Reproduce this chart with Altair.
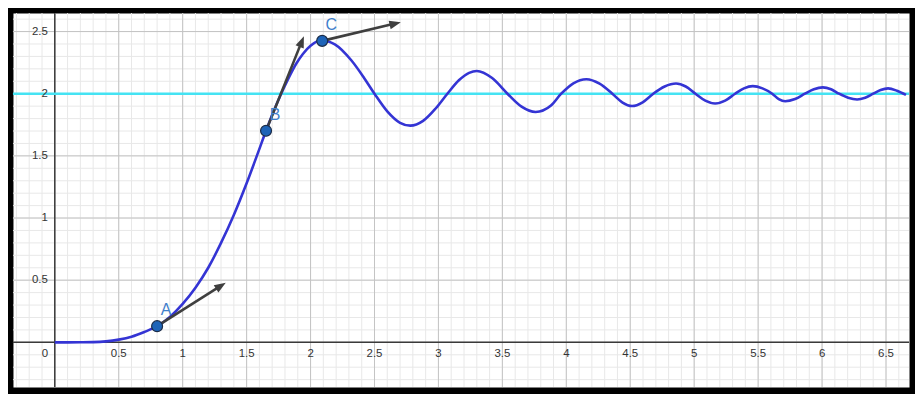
import math
import numpy as np
import pandas as pd
import altair as alt

# ---------------- data ----------------
curve_x = [0, 0.1, 0.2, 0.3, 0.4, 0.5, 0.6, 0.7, 0.8, 0.9, 1.0, 1.1, 1.2, 1.3, 1.4,
           1.5, 1.58, 1.652, 1.71, 1.77, 1.83, 1.89, 1.94, 2.0, 2.08, 2.19, 2.32,
           2.42, 2.50, 2.60, 2.70, 2.78, 2.88, 2.98, 3.07, 3.16, 3.24, 3.30, 3.42,
           3.54, 3.65, 3.76, 3.88, 3.96, 4.055, 4.157, 4.26, 4.36, 4.437, 4.514,
           4.597, 4.68, 4.769, 4.858, 4.934, 5.01, 5.087, 5.164, 5.242, 5.32, 5.389,
           5.458, 5.534, 5.61, 5.661, 5.712, 5.789, 5.866, 5.936, 6.006, 6.07,
           6.133, 6.204, 6.274, 6.337, 6.40, 6.458, 6.516, 6.586, 6.656]
curve_y = [0, 0, 0.0005, 0.002, 0.008, 0.022, 0.045, 0.083, 0.13, 0.205, 0.31, 0.44,
           0.6, 0.8, 1.025, 1.28, 1.50, 1.702, 1.855, 2.0, 2.13, 2.245, 2.32, 2.385,
           2.43, 2.397, 2.267, 2.125, 2.0, 1.858, 1.766, 1.743, 1.781, 1.883, 2.0,
           2.108, 2.168, 2.183, 2.126, 2.0, 1.896, 1.853, 1.905, 2.0, 2.084, 2.117,
           2.081, 2.0, 1.931, 1.901, 1.931, 2.0, 2.058, 2.082, 2.058, 2.0, 1.944,
           1.921, 1.944, 2.0, 2.043, 2.061, 2.043, 2.0, 1.957, 1.939, 1.957, 2.0,
           2.036, 2.051, 2.036, 2.0, 1.968, 1.954, 1.968, 2.0, 2.030, 2.043, 2.024,
           1.99]

asymptote = [2]

point_names = ["A", "B", "C"]
point_x = [0.80, 1.652, 2.091]
point_y = [0.13, 1.702, 2.425]
arrow_tip_x = [1.337, 1.948, 2.706]
arrow_tip_y = [0.48, 2.463, 2.575]

x_tick_vals = [0.5, 1, 1.5, 2, 2.5, 3, 3.5, 4, 4.5, 5, 5.5, 6, 6.5]
x_tick_labels = ["0.5", "1", "1.5", "2", "2.5", "3", "3.5", "4", "4.5", "5", "5.5", "6", "6.5"]
y_tick_vals = [0.5, 1, 1.5, 2, 2.5]
y_tick_labels = ["0.5", "1", "1.5", "2", "2.5"]

# ---------------- layout ----------------
W, H = 901, 376
XMIN, XMAX = -0.327, 6.68
YMIN, YMAX = -0.359, 2.649
SX = W / (XMAX - XMIN)
SY = H / (YMAX - YMIN)

minor_x = [round(v, 1) for v in np.arange(-0.3, 6.65, 0.1)]
minor_y = [round(v, 1) for v in np.arange(-0.3, 2.65, 0.1)]
major_x = [0.5 * k for k in range(0, 14)]
major_y = [0.5 * k for k in range(0, 6)]

x_scale = alt.Scale(domain=[XMIN, XMAX], nice=False, zero=False)
y_scale = alt.Scale(domain=[YMIN, YMAX], nice=False, zero=False)

hidden_axis = dict(labels=False, ticks=False, domain=False, grid=False, title=None)


def X(field):
    return alt.X(field, scale=x_scale, axis=None)


def Y(field):
    return alt.Y(field, scale=y_scale, axis=None)


curve_df = pd.DataFrame({"x": curve_x, "y": curve_y})

# arrows
rows = []
for n, x0, y0, tx, ty in zip(point_names, point_x, point_y, arrow_tip_x, arrow_tip_y):
    dxp = (tx - x0) * SX
    dyp = (ty - y0) * SY
    length = math.hypot(dxp, dyp)
    f = max(0.0, 1 - 7.0 / length)
    heading = math.degrees(math.atan2(dxp, dyp)) % 360
    rows.append({"name": n, "x0": x0, "y0": y0, "tx": tx, "ty": ty,
                 "sx": x0 + f * (tx - x0), "sy": y0 + f * (ty - y0), "ang": heading})
arrow_df = pd.DataFrame(rows)
pts_df = pd.DataFrame({"name": point_names, "x": point_x, "y": point_y})
xt_df = pd.DataFrame({"v": x_tick_vals, "label": x_tick_labels})
yt_df = pd.DataFrame({"v": y_tick_vals, "label": y_tick_labels})

FONT = "Liberation Sans"

base = alt.Chart(curve_df).mark_line(opacity=0).encode(
    x=alt.X("x:Q", scale=x_scale, axis=alt.Axis(**hidden_axis)),
    y=alt.Y("y:Q", scale=y_scale, axis=alt.Axis(**hidden_axis)),
)

minor_vx = alt.Chart(pd.DataFrame({"v": minor_x})).mark_rule(
    color="#e8e8e8", strokeWidth=1).encode(x=X("v:Q"))
minor_hy = alt.Chart(pd.DataFrame({"v": minor_y})).mark_rule(
    color="#e8e8e8", strokeWidth=1).encode(y=Y("v:Q"))
major_vx = alt.Chart(pd.DataFrame({"v": major_x})).mark_rule(
    color="#c4c4c4", strokeWidth=1).encode(x=X("v:Q"))
major_hy = alt.Chart(pd.DataFrame({"v": major_y})).mark_rule(
    color="#c4c4c4", strokeWidth=1).encode(y=Y("v:Q"))

x_axis_line = alt.Chart(pd.DataFrame({"v": [0]})).mark_rule(
    color="#3a3a3a", strokeWidth=1.5).encode(y=Y("v:Q"))
y_axis_line = alt.Chart(pd.DataFrame({"v": [0]})).mark_rule(
    color="#3a3a3a", strokeWidth=1.5).encode(x=X("v:Q"))

cyan = alt.Chart(pd.DataFrame({"v": asymptote})).mark_rule(
    color="#45e3f3", strokeWidth=2.6).encode(y=Y("v:Q"))

curve = alt.Chart(curve_df).mark_line(
    color="#3434d4", strokeWidth=2.6, interpolate="monotone").encode(
    x=X("x:Q"), y=Y("y:Q"))

shafts = alt.Chart(arrow_df).mark_rule(color="#3f3f3f", strokeWidth=2.6).encode(
    x=X("x0:Q"), y=Y("y0:Q"), x2="sx:Q", y2="sy:Q")

heads = alt.Chart(arrow_df).mark_point(
    shape="M0,0L0.8,2.1L-0.8,2.1Z", filled=True, size=121, color="#3f3f3f",
    opacity=1, strokeWidth=0).encode(
    x=X("tx:Q"), y=Y("ty:Q"), angle=alt.Angle("ang:Q", scale=None))

points = alt.Chart(pts_df).mark_point(
    shape="circle", filled=True, size=121, fill="#1e64b8", stroke="#1b2c48",
    strokeWidth=1.2, opacity=1).encode(x=X("x:Q"), y=Y("y:Q"))

labels = alt.Chart(pts_df).mark_text(
    dx=9, dy=-16, fontSize=16, color="#3f7fcc", font=FONT, align="center",
    baseline="middle").encode(x=X("x:Q"), y=Y("y:Q"), text="name:N")

xticks = alt.Chart(xt_df).mark_text(
    dy=12, fontSize=11.5, color="#333333", font=FONT, align="center",
    baseline="middle").encode(x=X("v:Q"), y=alt.datum(0), text="label:N")

yticks = alt.Chart(yt_df).mark_text(
    dx=-7, fontSize=11.5, color="#333333", font=FONT, align="right",
    baseline="middle").encode(x=alt.datum(0), y=Y("v:Q"), text="label:N")

origin = alt.Chart(pd.DataFrame({"label": ["0"]})).mark_text(
    dx=-10, dy=12, fontSize=11.5, color="#333333", font=FONT, align="center",
    baseline="middle").encode(x=alt.datum(0), y=alt.datum(0), text="label:N")

chart = alt.layer(
    base, minor_vx, minor_hy, major_vx, major_hy, x_axis_line, y_axis_line, cyan,
    curve, shafts, heads, points, labels, xticks, yticks, origin,
).properties(
    width=W, height=H, background="black",
    padding={"left": 3, "top": 3, "right": 3, "bottom": 5},
).configure_view(fill="white", stroke="transparent")

chart.save("out.html", embed_options={"renderer": "svg", "actions": False})
